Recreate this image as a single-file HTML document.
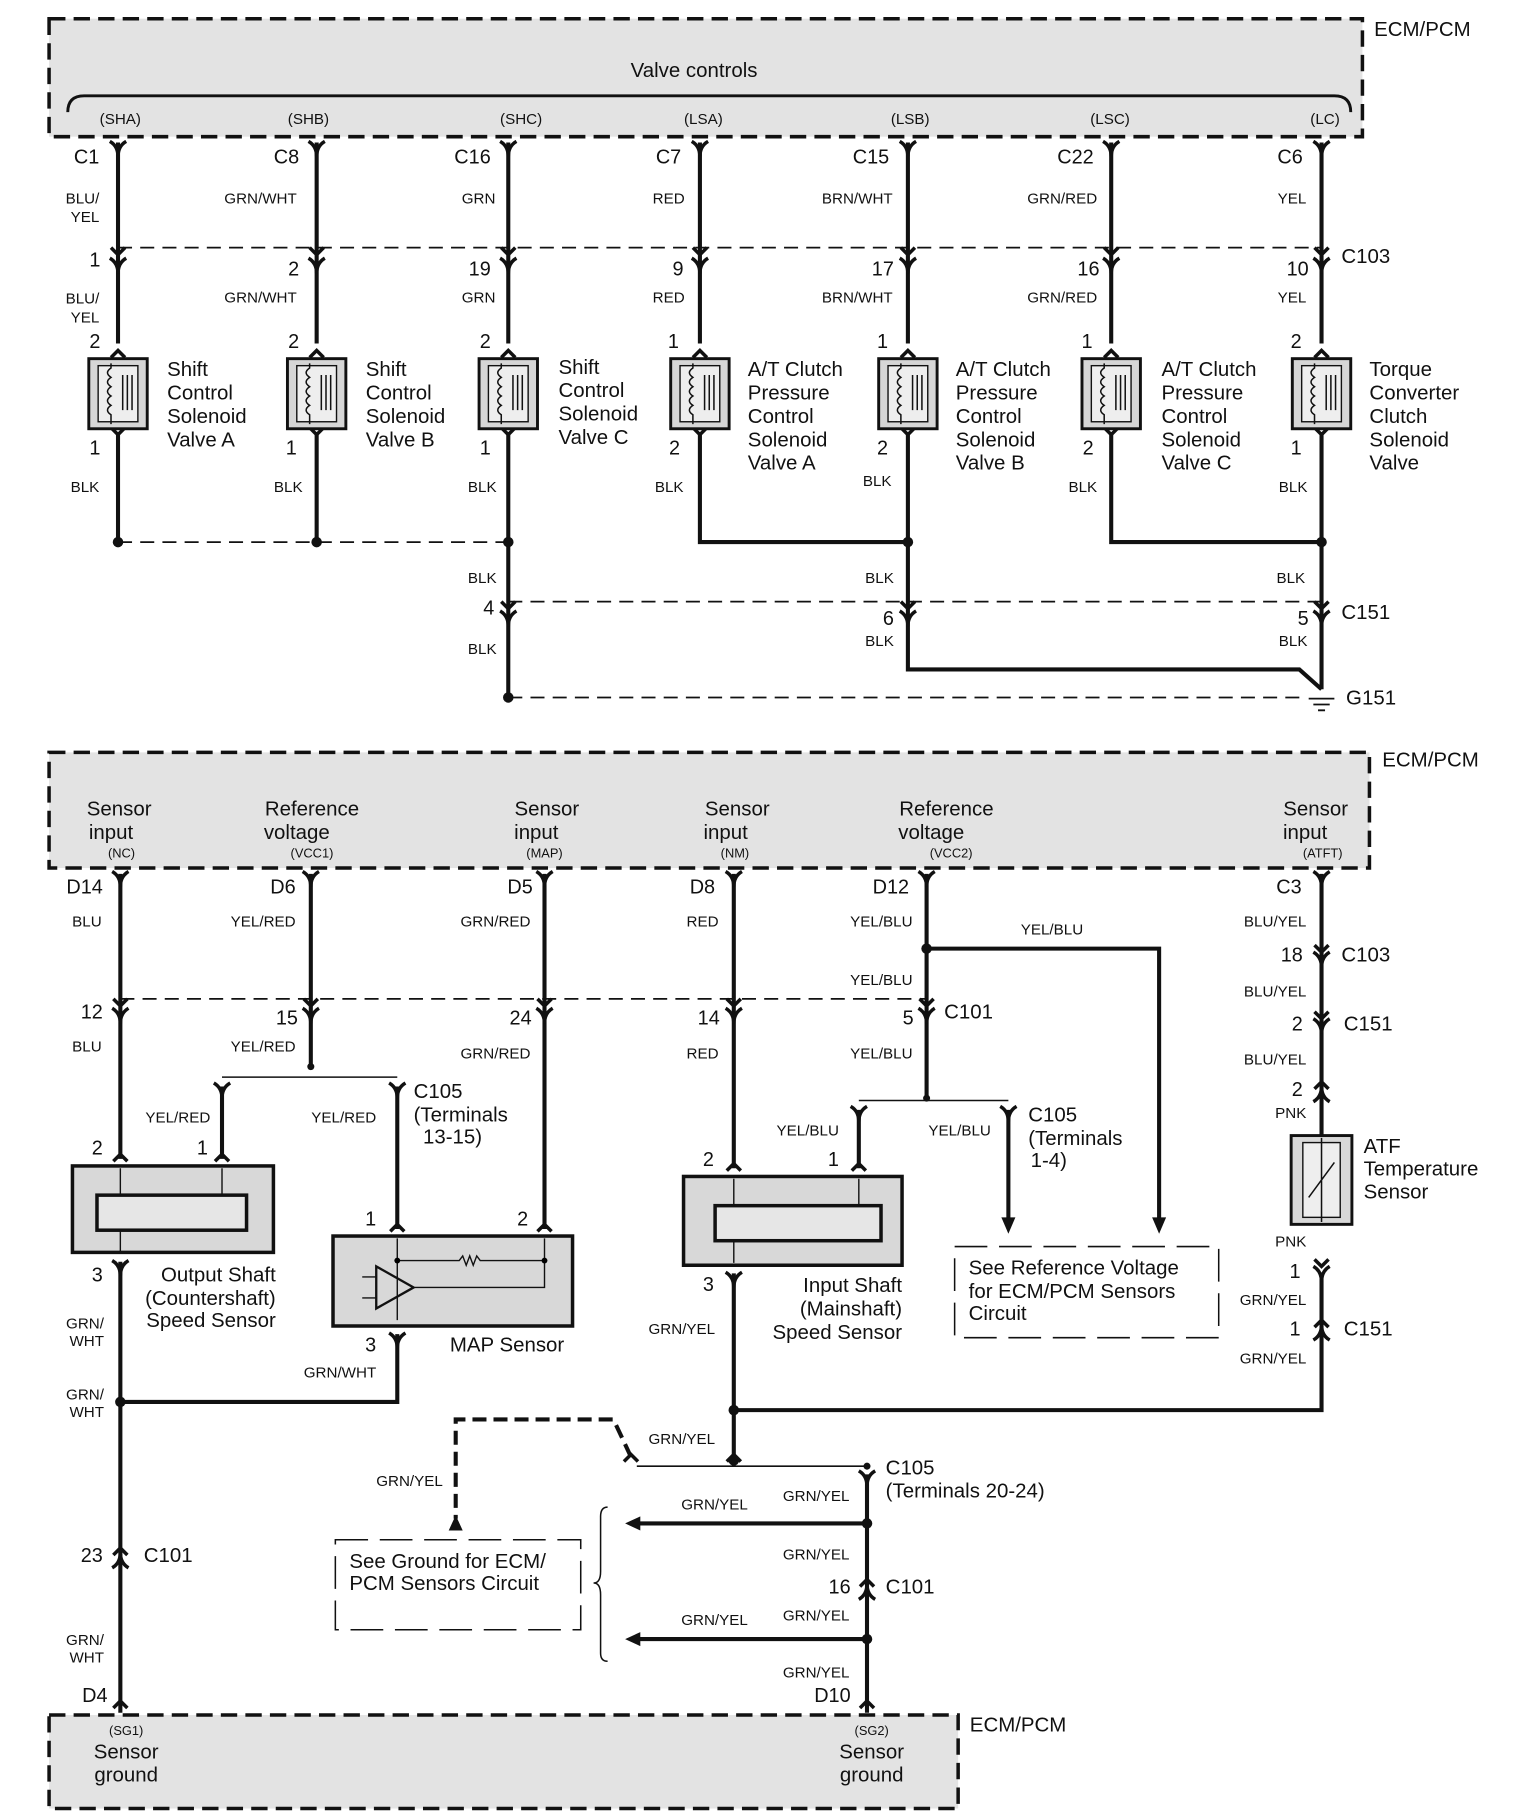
<!DOCTYPE html>
<html><head><meta charset="utf-8"><style>
html,body{margin:0;padding:0;background:#fff;width:1519px;height:1812px;overflow:hidden}
svg{display:block}
text{font-family:"Liberation Sans",Arial,sans-serif;fill:#111}
.w{font-size:13px}
.p{font-size:17px}
.l{font-size:17.5px}
.s{font-size:11px}
</style></head><body>
<svg width="1519" height="1812" viewBox="0 0 1300 1551" preserveAspectRatio="none" xmlns="http://www.w3.org/2000/svg">
<defs>
<g id="fy"><path d="M-7,-7 Q0,-3 0,6 M7,-7 Q0,-3 0,6" fill="none" stroke="#111" stroke-width="3"/></g>
<g id="mv"><path d="M-6,-6 L0,0 L6,-6" fill="none" stroke="#111" stroke-width="3"/></g>
<g id="mu"><path d="M-6,6 L0,0 L6,6" fill="none" stroke="#111" stroke-width="3"/></g>
<g id="fu"><path d="M-7,7 Q0,3 0,-6 M7,7 Q0,3 0,-6" fill="none" stroke="#111" stroke-width="3"/></g>
<g id="sol">
<rect x="-25" y="0" width="50" height="60" fill="#d6d6d6" stroke="#111" stroke-width="2.5"/>
<rect x="-17" y="6" width="34" height="48" fill="#eee" stroke="#111" stroke-width="1.2"/>
<path d="M-6,4 L-6,8 Q-12,12 -6,16 Q-12,20 -6,24 Q-12,28 -6,32 Q-12,36 -6,40 Q-12,44 -6,48 L-6,56" fill="none" stroke="#111" stroke-width="1.3"/>
<path d="M4,14 V44 M8,14 V44 M12,14 V44" stroke="#111" stroke-width="1.3"/>
</g>
</defs>

<!-- TOP ECM -->
<rect x="42" y="16" width="1124" height="101" fill="#e3e3e3" stroke="#111" stroke-width="3" stroke-dasharray="14,7"/>
<text x="1176" y="31" class="l">ECM/PCM</text>
<text x="594" y="66" class="l" text-anchor="middle">Valve controls</text>
<path d="M58,96 Q58,82 72,82 L1142,82 Q1156,82 1156,96" fill="none" stroke="#111" stroke-width="2.5"/>
<g class="w" text-anchor="middle">
<text x="103" y="106">(SHA)</text><text x="264" y="106">(SHB)</text><text x="446" y="106">(SHC)</text><text x="602" y="106">(LSA)</text><text x="779" y="106">(LSB)</text><text x="950" y="106">(LSC)</text><text x="1134" y="106">(LC)</text>
</g>

<g stroke="#111" stroke-width="3.5" fill="none">
<path d="M101,122 V294 M101,372 V464"/>
<path d="M271,122 V294 M271,372 V464"/>
<path d="M435,122 V294 M435,372 V597"/>
<path d="M599,122 V294 M599,372 V464 H777"/>
<path d="M777,122 V294 M777,372 V573 H1112 L1131,590"/>
<path d="M951,122 V294 M951,372 V464 H1131"/>
<path d="M1131,122 V294 M1131,372 V590"/>
</g>
<g stroke="#111" stroke-width="1.5" stroke-dasharray="12,7" fill="none">
<path d="M101,212 H1131"/><path d="M101,464 H435"/><path d="M435,515 H1131"/><path d="M435,597 H1118"/>
</g>
<g fill="#111">
<circle cx="101" cy="464" r="4.5"/><circle cx="271" cy="464" r="4.5"/><circle cx="435" cy="464" r="4.5"/><circle cx="777" cy="464" r="4.5"/><circle cx="1131" cy="464" r="4.5"/><circle cx="435" cy="597" r="4.5"/>
</g>
<!-- ground -->
<path d="M1120,598 H1142 M1124,603 H1138 M1128,608 H1134" stroke="#111" stroke-width="1.5"/>
<text x="1152" y="603" class="l">G151</text>

<!-- connectors top -->
<g>
<use href="#fy" x="101" y="128"/><use href="#fy" x="271" y="128"/><use href="#fy" x="435" y="128"/><use href="#fy" x="599" y="128"/><use href="#fy" x="777" y="128"/><use href="#fy" x="951" y="128"/><use href="#fy" x="1131" y="128"/>
<use href="#mv" x="101" y="218"/><use href="#mv" x="271" y="218"/><use href="#mv" x="435" y="218"/><use href="#mv" x="599" y="218"/><use href="#mv" x="777" y="218"/><use href="#mv" x="951" y="218"/><use href="#mv" x="1131" y="218"/>
<use href="#fy" x="101" y="228"/><use href="#fy" x="271" y="228"/><use href="#fy" x="435" y="228"/><use href="#fy" x="599" y="228"/><use href="#fy" x="777" y="228"/><use href="#fy" x="951" y="228"/><use href="#fy" x="1131" y="228"/>
<use href="#mu" x="101" y="300"/><use href="#mu" x="271" y="300"/><use href="#mu" x="435" y="300"/><use href="#mu" x="599" y="300"/><use href="#mu" x="777" y="300"/><use href="#mu" x="951" y="300"/><use href="#mu" x="1131" y="300"/>
<use href="#mv" x="101" y="372"/><use href="#mv" x="271" y="372"/><use href="#mv" x="435" y="372"/><use href="#mv" x="599" y="372"/><use href="#mv" x="777" y="372"/><use href="#mv" x="951" y="372"/><use href="#mv" x="1131" y="372"/>
<use href="#mv" x="435" y="521"/><use href="#fy" x="435" y="530"/>
<use href="#mv" x="777" y="521"/><use href="#fy" x="777" y="530"/>
<use href="#mv" x="1131" y="521"/><use href="#fy" x="1131" y="530"/>
</g>
<g>
<use href="#sol" x="101" y="307"/><use href="#sol" x="271" y="307"/><use href="#sol" x="435" y="307"/><use href="#sol" x="599" y="307"/><use href="#sol" x="777" y="307"/><use href="#sol" x="951" y="307"/><use href="#sol" x="1131" y="307"/>
</g>

<g class="p" text-anchor="end">
<text x="85" y="140">C1</text><text x="256" y="140">C8</text><text x="420" y="140">C16</text><text x="583" y="140">C7</text><text x="761" y="140">C15</text><text x="936" y="140">C22</text><text x="1115" y="140">C6</text>
<text x="86" y="228">1</text><text x="256" y="236">2</text><text x="420" y="236">19</text><text x="585" y="236">9</text><text x="765" y="236">17</text><text x="941" y="236">16</text><text x="1120" y="236">10</text>
<text x="86" y="298">2</text><text x="256" y="298">2</text><text x="420" y="298">2</text><text x="581" y="298">1</text><text x="760" y="298">1</text><text x="935" y="298">1</text><text x="1114" y="298">2</text>
<text x="86" y="389">1</text><text x="254" y="389">1</text><text x="420" y="389">1</text><text x="582" y="389">2</text><text x="760" y="389">2</text><text x="936" y="389">2</text><text x="1114" y="389">1</text>
<text x="423" y="526">4</text><text x="765" y="535">6</text><text x="1120" y="535">5</text>
</g>
<text x="1148" y="225" class="l">C103</text>
<text x="1148" y="530" class="l">C151</text>
<g class="w" text-anchor="end">
<text x="85" y="174">BLU/</text><text x="85" y="190">YEL</text>
<text x="254" y="174">GRN/WHT</text><text x="424" y="174">GRN</text><text x="586" y="174">RED</text><text x="764" y="174">BRN/WHT</text><text x="939" y="174">GRN/RED</text><text x="1118" y="174">YEL</text>
<text x="85" y="260">BLU/</text><text x="85" y="276">YEL</text>
<text x="254" y="259">GRN/WHT</text><text x="424" y="259">GRN</text><text x="586" y="259">RED</text><text x="764" y="259">BRN/WHT</text><text x="939" y="259">GRN/RED</text><text x="1118" y="259">YEL</text>
<text x="85" y="421">BLK</text><text x="259" y="421">BLK</text><text x="425" y="421">BLK</text><text x="585" y="421">BLK</text><text x="763" y="416">BLK</text><text x="939" y="421">BLK</text><text x="1119" y="421">BLK</text>
<text x="425" y="499">BLK</text><text x="765" y="499">BLK</text><text x="1117" y="499">BLK</text>
<text x="425" y="560">BLK</text><text x="765" y="553">BLK</text><text x="1119" y="553">BLK</text>
</g>
<g class="l">
<text x="143" y="322">Shift</text><text x="143" y="342">Control</text><text x="143" y="362">Solenoid</text><text x="143" y="382">Valve A</text>
<text x="313" y="322">Shift</text><text x="313" y="342">Control</text><text x="313" y="362">Solenoid</text><text x="313" y="382">Valve B</text>
<text x="478" y="320">Shift</text><text x="478" y="340">Control</text><text x="478" y="360">Solenoid</text><text x="478" y="380">Valve C</text>
<text x="640" y="322">A/T Clutch</text><text x="640" y="342">Pressure</text><text x="640" y="362">Control</text><text x="640" y="382">Solenoid</text><text x="640" y="402">Valve A</text>
<text x="818" y="322">A/T Clutch</text><text x="818" y="342">Pressure</text><text x="818" y="362">Control</text><text x="818" y="382">Solenoid</text><text x="818" y="402">Valve B</text>
<text x="994" y="322">A/T Clutch</text><text x="994" y="342">Pressure</text><text x="994" y="362">Control</text><text x="994" y="382">Solenoid</text><text x="994" y="402">Valve C</text>
<text x="1172" y="322">Torque</text><text x="1172" y="342">Converter</text><text x="1172" y="362">Clutch</text><text x="1172" y="382">Solenoid</text><text x="1172" y="402">Valve</text>
</g>

<!-- BOTTOM ECM -->
<rect x="42" y="644" width="1130" height="99" fill="#e3e3e3" stroke="#111" stroke-width="3" stroke-dasharray="14,7"/>
<text x="1183" y="656" class="l">ECM/PCM</text>
<g class="l" text-anchor="middle">
<text x="102" y="698">Sensor</text><text x="95" y="718">input</text>
<text x="267" y="698">Reference</text><text x="254" y="718">voltage</text>
<text x="468" y="698">Sensor</text><text x="459" y="718">input</text>
<text x="631" y="698">Sensor</text><text x="621" y="718">input</text>
<text x="810" y="698">Reference</text><text x="797" y="718">voltage</text>
<text x="1126" y="698">Sensor</text><text x="1117" y="718">input</text>
</g>
<g class="s" text-anchor="middle">
<text x="104" y="734">(NC)</text><text x="267" y="734">(VCC1)</text><text x="466" y="734">(MAP)</text><text x="629" y="734">(NM)</text><text x="814" y="734">(VCC2)</text><text x="1132" y="734">(ATFT)</text>
</g>

<g stroke="#111" stroke-width="3.5" fill="none">
<path d="M103,748 V992 M103,1080 V1466"/>
<path d="M266,748 V913"/>
<path d="M190,930 V992"/>
<path d="M340,930 V1052 M340,1142 V1200 H103"/>
<path d="M466,748 V1052"/>
<path d="M628,748 V1000 M628,1090 V1250"/>
<path d="M628,1207 H1131 V1093 M1131,748 V972"/>
<path d="M793,748 V940"/>
<path d="M793,812 H992 V1045"/>
<path d="M735,950 V1000"/>
<path d="M863,950 V1045"/>
<path d="M742,1262 V1466"/>
<path d="M742,1304 H545 M742,1403 H545"/>
</g>
<path d="M190,922 H340 M735,942 H863 M545,1255 H742" stroke="#111" stroke-width="1.3" fill="none"/>
<path d="M540,1247 L525,1215 H390 V1300" stroke="#111" stroke-width="3.5" fill="none" stroke-dasharray="12,6"/>
<path d="M103,855 H793" stroke="#111" stroke-width="1.5" stroke-dasharray="12,7" fill="none"/>
<path d="M520,1290 Q514,1290 514,1298 V1345 Q514,1355 508,1355 Q514,1355 514,1365 V1415 Q514,1422 520,1422" stroke="#111" stroke-width="1.3" fill="none"/>
<g fill="#111">
<circle cx="266" cy="913" r="3"/><circle cx="793" cy="940" r="3"/><circle cx="793" cy="812" r="4.5"/>
<circle cx="103" cy="1200" r="4.5"/><circle cx="628" cy="1207" r="4.5"/><circle cx="628" cy="1250" r="4.5"/>
<circle cx="742" cy="1255" r="3"/><circle cx="742" cy="1304" r="4.5"/><circle cx="742" cy="1403" r="4.5"/>
<path d="M992,1056 L986,1042 H998 Z"/><path d="M863,1056 L857,1042 H869 Z"/>
<path d="M390,1297 L384,1310 H396 Z"/>
<path d="M535,1304 L548,1298 V1310 Z"/><path d="M535,1403 L548,1397 V1409 Z"/>
</g>
<!-- connectors bottom -->
<g>
<use href="#fy" x="103" y="753"/><use href="#fy" x="266" y="753"/><use href="#fy" x="466" y="753"/><use href="#fy" x="628" y="753"/><use href="#fy" x="793" y="753"/><use href="#fy" x="1131" y="753"/>
<use href="#mv" x="103" y="861"/><use href="#fy" x="103" y="870"/>
<use href="#mv" x="266" y="861"/><use href="#fy" x="266" y="870"/>
<use href="#mv" x="466" y="861"/><use href="#fy" x="466" y="870"/>
<use href="#mv" x="628" y="861"/><use href="#fy" x="628" y="870"/>
<use href="#mv" x="793" y="861"/><use href="#fy" x="793" y="870"/>
<use href="#fy" x="190" y="934"/><use href="#fy" x="340" y="934"/><use href="#fy" x="735" y="954"/><use href="#fy" x="863" y="954"/>
<use href="#mu" x="103" y="988"/><use href="#mu" x="190" y="988"/><use href="#mu" x="340" y="1048"/><use href="#mu" x="466" y="1048"/>
<use href="#mu" x="628" y="996"/><use href="#mu" x="735" y="996"/>
<use href="#fy" x="103" y="1086"/><use href="#fy" x="340" y="1148"/><use href="#fy" x="628" y="1096"/>
<use href="#mv" x="1131" y="815"/><use href="#fy" x="1131" y="822"/>
<use href="#mv" x="1131" y="872"/><use href="#fy" x="1131" y="879"/>
<use href="#mu" x="1131" y="926"/><use href="#fu" x="1131" y="936"/>
<use href="#mv" x="1131" y="1084"/><use href="#fy" x="1131" y="1091"/>
<use href="#mu" x="1131" y="1130"/><use href="#fu" x="1131" y="1140"/>
<use href="#mu" x="103" y="1325"/><use href="#fu" x="103" y="1335"/>
<use href="#mu" x="742" y="1352"/><use href="#fu" x="742" y="1362"/>
<use href="#mu" x="540" y="1245"/><use href="#mu" x="628" y="1245"/><use href="#fy" x="742" y="1266"/>
<use href="#mu" x="103" y="1456"/><use href="#mu" x="742" y="1456"/>
</g>
<!-- sensors -->
<rect x="62" y="998" width="172" height="74" fill="#d8d8d8" stroke="#111" stroke-width="3"/>
<rect x="83" y="1023" width="128" height="30" fill="#e6e6e6" stroke="#111" stroke-width="3"/>
<path d="M103,1000 V1023 M190,1000 V1023 M103,1053 V1072" stroke="#111" stroke-width="1.2"/>
<rect x="285" y="1058" width="205" height="77" fill="#d8d8d8" stroke="#111" stroke-width="3"/>
<path d="M340,1060 V1130 M340,1079 H393 l3,-4 3,8 3,-8 3,8 3,-8 3,4 H466 V1060 M466,1079 V1102 H355" stroke="#111" stroke-width="1.2" fill="none"/>
<path d="M322,1084 L354,1102 L322,1120 Z" fill="none" stroke="#111" stroke-width="2"/>
<path d="M310,1093 H322 M310,1111 H322" stroke="#111" stroke-width="1.2"/>
<circle cx="340" cy="1079" r="2.5"/><circle cx="466" cy="1079" r="2.5"/>
<rect x="585" y="1007" width="187" height="76" fill="#d8d8d8" stroke="#111" stroke-width="3"/>
<rect x="612" y="1032" width="142" height="30" fill="#e6e6e6" stroke="#111" stroke-width="3"/>
<path d="M628,1009 V1032 M735,1009 V1032 M628,1062 V1081" stroke="#111" stroke-width="1.2"/>
<rect x="1105" y="972" width="52" height="76" fill="#d8d8d8" stroke="#111" stroke-width="2.5"/>
<rect x="1115" y="978" width="32" height="64" fill="#eee" stroke="#111" stroke-width="1.2"/>
<path d="M1131,974 V1046 M1120,1025 L1142,995" stroke="#111" stroke-width="1.3"/>
<!-- dashed ref boxes -->
<rect x="817" y="1067" width="226" height="78" fill="none" stroke="#111" stroke-width="1.3" stroke-dasharray="28,10"/>
<rect x="287" y="1318" width="210" height="77" fill="none" stroke="#111" stroke-width="1.3" stroke-dasharray="28,10"/>
<!-- bottom ECM -->
<rect x="42" y="1468" width="778" height="80" fill="#e3e3e3" stroke="#111" stroke-width="3" stroke-dasharray="14,7"/>
<text x="830" y="1482" class="l">ECM/PCM</text>
<text x="108" y="1485" class="s" text-anchor="middle">(SG1)</text>
<text x="108" y="1505" class="l" text-anchor="middle">Sensor</text><text x="108" y="1525" class="l" text-anchor="middle">ground</text>
<text x="746" y="1485" class="s" text-anchor="middle">(SG2)</text>
<text x="746" y="1505" class="l" text-anchor="middle">Sensor</text><text x="746" y="1525" class="l" text-anchor="middle">ground</text>

<g class="p" text-anchor="end">
<text x="88" y="765">D14</text><text x="253" y="765">D6</text><text x="456" y="765">D5</text><text x="612" y="765">D8</text><text x="778" y="765">D12</text><text x="1114" y="765">C3</text>
<text x="88" y="872">12</text><text x="255" y="877">15</text><text x="455" y="877">24</text><text x="616" y="877">14</text><text x="782" y="877">5</text>
<text x="88" y="988">2</text><text x="178" y="988">1</text><text x="322" y="1049">1</text><text x="452" y="1049">2</text>
<text x="88" y="1097">3</text><text x="322" y="1157">3</text>
<text x="611" y="998">2</text><text x="718" y="998">1</text><text x="611" y="1105">3</text>
<text x="1115" y="823">18</text><text x="1115" y="882">2</text><text x="1115" y="938">2</text><text x="1113" y="1094">1</text><text x="1113" y="1143">1</text>
<text x="88" y="1337">23</text><text x="728" y="1364">16</text>
<text x="92" y="1457">D4</text><text x="728" y="1457">D10</text>
</g>
<g class="l">
<text x="1148" y="823">C103</text><text x="1150" y="882">C151</text><text x="1150" y="1143">C151</text>
<text x="808" y="872">C101</text><text x="123" y="1337">C101</text><text x="758" y="1364">C101</text>
<text x="354" y="940">C105</text><text x="354" y="960">(Terminals</text><text x="362" y="979">13-15)</text>
<text x="880" y="960">C105</text><text x="880" y="980">(Terminals</text><text x="882" y="999">1-4)</text>
<text x="758" y="1262">C105</text><text x="758" y="1282">(Terminals 20-24)</text>
<text x="236" y="1097" text-anchor="end">Output Shaft</text><text x="236" y="1117" text-anchor="end">(Countershaft)</text><text x="236" y="1136" text-anchor="end">Speed Sensor</text>
<text x="385" y="1157">MAP Sensor</text>
<text x="772" y="1106" text-anchor="end">Input Shaft</text><text x="772" y="1126" text-anchor="end">(Mainshaft)</text><text x="772" y="1146" text-anchor="end">Speed Sensor</text>
<text x="1167" y="987">ATF</text><text x="1167" y="1006">Temperature</text><text x="1167" y="1026">Sensor</text>
<text x="829" y="1091">See Reference Voltage</text><text x="829" y="1111">for ECM/PCM Sensors</text><text x="829" y="1130">Circuit</text>
<text x="299" y="1342">See Ground for ECM/</text><text x="299" y="1361">PCM Sensors Circuit</text>
</g>
<g class="w" text-anchor="end">
<text x="87" y="793">BLU</text><text x="253" y="793">YEL/RED</text><text x="454" y="793">GRN/RED</text><text x="615" y="793">RED</text><text x="781" y="793">YEL/BLU</text><text x="1118" y="793">BLU/YEL</text>
<text x="927" y="800">YEL/BLU</text><text x="781" y="843">YEL/BLU</text>
<text x="87" y="900">BLU</text><text x="253" y="900">YEL/RED</text><text x="454" y="906">GRN/RED</text><text x="615" y="906">RED</text><text x="781" y="906">YEL/BLU</text>
<text x="1118" y="853">BLU/YEL</text><text x="1118" y="911">BLU/YEL</text><text x="1118" y="957">PNK</text>
<text x="180" y="961">YEL/RED</text><text x="322" y="961">YEL/RED</text><text x="718" y="972">YEL/BLU</text><text x="848" y="972">YEL/BLU</text>
<text x="1118" y="1067">PNK</text><text x="1118" y="1117">GRN/YEL</text><text x="1118" y="1167">GRN/YEL</text>
<text x="89" y="1137">GRN/</text><text x="89" y="1152">WHT</text>
<text x="89" y="1198">GRN/</text><text x="89" y="1213">WHT</text>
<text x="322" y="1179">GRN/WHT</text>
<text x="612" y="1142">GRN/YEL</text>
<text x="612" y="1236">GRN/YEL</text><text x="379" y="1272">GRN/YEL</text>
<text x="727" y="1285">GRN/YEL</text><text x="640" y="1292">GRN/YEL</text>
<text x="727" y="1335">GRN/YEL</text><text x="727" y="1387">GRN/YEL</text><text x="640" y="1391">GRN/YEL</text>
<text x="727" y="1436">GRN/YEL</text>
<text x="89" y="1408">GRN/</text><text x="89" y="1423">WHT</text>
</g>
</svg>
</body></html>
